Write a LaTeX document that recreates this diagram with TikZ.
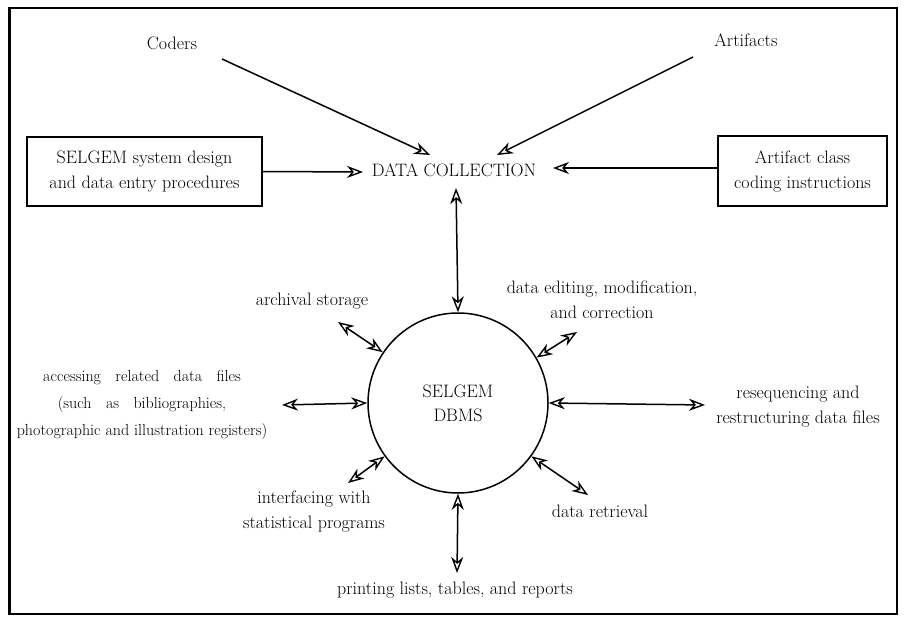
\documentclass[tikz,border=0pt]{standalone}
\usetikzlibrary{arrows.meta}
\begin{document}
\begin{tikzpicture}[x=1pt,y=-1pt,
  lbl/.style={align=center, font=\fontsize{18}{25}\selectfont, inner sep=0pt},
  boxnode/.style={draw, line width=1.6pt, inner sep=0pt, align=center, font=\fontsize{18}{25}\selectfont},
  tipa/.tip={Stealth[open,length=16pt,width=12pt,inset=5pt,line width=1.4pt]},
  arr/.style={line width=1.5pt, -tipa},
  darr/.style={line width=1.5pt, tipa-tipa}]
\useasboundingbox (0,0) rectangle (904,618);
% frame
\draw[line width=1.6pt] (9,8) rectangle (897,614);
\draw[line width=3pt] (9.5,8) -- (9.5,614);
% top nodes
\node[lbl] (coders) at (172,43) {Coders};
\node[lbl] (artifacts) at (746,40) {Artifacts};
\node[lbl] (dc) at (454,170) {DATA COLLECTION};
\node[boxnode, minimum width=235pt, minimum height=69pt] (lbox) at (144.5,171.5) {SELGEM system design\\and data entry procedures};
\node[boxnode, minimum width=169pt, minimum height=70pt] (rbox) at (802.5,171) {Artifact class\\coding instructions};
% circle
\node[draw, circle, line width=1.5pt, minimum size=180pt, inner sep=0pt, align=center, font=\fontsize{18}{24}\selectfont] (db) at (458,403) {SELGEM\\DBMS};
% labels around circle
\node[lbl] (arch) at (312,301) {archival storage};
\node[lbl, font=\fontsize{16}{27}\selectfont] (acc) at (142,405) {accessing\hspace{0.9em}related\hspace{0.9em}data\hspace{0.9em}files\\(such\hspace{0.9em}as\hspace{0.9em}bibliographies,\\photographic and illustration registers)};
\node[lbl] (edit) at (602,300) {data editing, modification,\\and correction};
\node[lbl] (reseq) at (798,407) {resequencing and\\restructuring data files};
\node[lbl] (retr) at (600,511) {data retrieval};
\node[lbl] (print) at (455,590) {printing lists, tables, and reports};
\node[lbl] (inter) at (314,512) {interfacing with\\statistical programs};
% coordinates
\coordinate (c1) at (222,59);
\coordinate (c1t) at (430,155);
\coordinate (a1) at (693,57);
\coordinate (a1t) at (497,155);
\coordinate (lt) at (363,172);
\coordinate (rt) at (553,168);
\coordinate (dcb) at (456,188);
\coordinate (oarch) at (338,322);
\coordinate (oacc) at (282,405);
\coordinate (oedit) at (577,332);
\coordinate (oreseq) at (705,405);
\coordinate (oretr) at (588,495);
\coordinate (oprint) at (457,573);
\coordinate (ointer) at (348,483);
% connectors
\draw[arr] (c1) -- (c1t);
\draw[arr] (a1) -- (a1t);
\draw[arr] (lbox.east) -- (lt);
\draw[arr] (rbox.west |- rt) -- (rt);
\draw[darr] (dcb) -- (db.90);
\draw[darr] (oarch) -- (db.146);
\draw[darr] (oacc) -- (db.180);
\draw[darr] (oedit) -- (db.30);
\draw[darr] (oreseq) -- (db.0);
\draw[darr] (oretr) -- (db.-36);
\draw[darr] (oprint) -- (db.270);
\draw[darr] (ointer) -- (db.-144);
\end{tikzpicture}
\end{document}
